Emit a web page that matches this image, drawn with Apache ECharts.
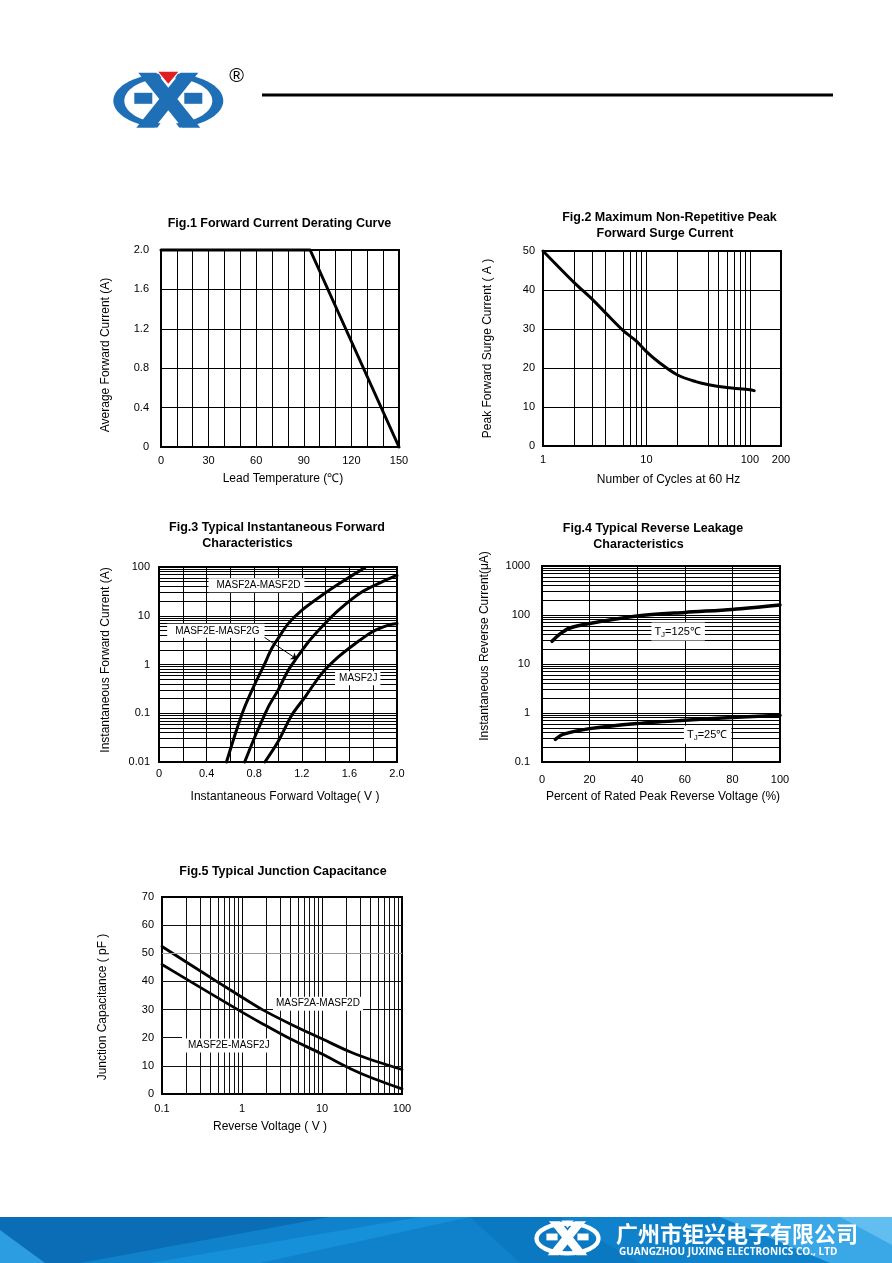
<!DOCTYPE html>
<html><head><meta charset="utf-8">
<script src="https://cdn.jsdelivr.net/npm/echarts@6/dist/echarts.min.js"></script>
<style>html,body{margin:0;padding:0;background:#fff}#c{width:892px;height:1263px}</style>
</head><body><div id="c"></div>
<script>
// ---------- DATA ----------
// Fig.1 Forward Current Derating Curve
const fig1Temp = [0, 94, 150];
const fig1Current = [2.0, 2.0, 0];
// Fig.2 Maximum Non-Repetitive Peak Forward Surge Current
const fig2Cycles = [1, 2, 3, 4, 6, 8, 10, 13, 20, 30, 40, 60, 100, 110];
const fig2Surge = [50, 41.9, 37.6, 34.2, 29.5, 26.9, 24.2, 21.6, 18.2, 16.5, 15.7, 15.0, 14.4, 14.2];
const fig2GridCycles = [2, 3, 4, 6, 7, 8, 9, 20, 40, 50, 60, 70, 80, 90];
// Fig.3 Typical Instantaneous Forward Characteristics
const fig3VoltAD = [0.567, 0.651, 0.72, 0.806, 0.876, 0.946, 1.0, 1.086, 1.199, 1.367, 1.535, 1.73];
const fig3CurAD = [0.01, 0.045, 0.134, 0.40, 0.89, 2.1, 3.4, 6.9, 12.9, 26, 49, 97];
const fig3VoltEG = [0.72, 0.806, 0.918, 1.0, 1.086, 1.157, 1.255, 1.367, 1.507, 1.704, 1.9, 2.0];
const fig3CurEG = [0.01, 0.033, 0.134, 0.295, 0.76, 1.36, 2.9, 5.9, 12.9, 30.7, 53, 67];
const fig3VoltJ = [0.89, 1.0, 1.114, 1.227, 1.367, 1.507, 1.648, 1.788, 1.928, 2.0];
const fig3CurJ = [0.01, 0.026, 0.09, 0.215, 0.65, 1.43, 2.67, 4.6, 6.4, 6.9];
const fig3Labels = ['MASF2A-MASF2D', 'MASF2E-MASF2G', 'MASF2J'];
// Fig.4 Typical Reverse Leakage Characteristics
const fig4Pct125 = [4.2, 7, 11.2, 20, 40, 60, 80, 100];
const fig4Cur125 = [29, 39, 53, 67, 95, 113, 130, 160];
const fig4Pct25 = [5.6, 9.1, 20, 40, 60, 80, 100];
const fig4Cur25 = [0.29, 0.37, 0.48, 0.61, 0.71, 0.81, 0.90];
// Fig.5 Typical Junction Capacitance
const fig5Volt = [0.1, 0.217, 0.47, 1, 1.82, 3.95, 10, 22.7, 44.7, 100];
const fig5CapAD = [52.4, 46.3, 40.2, 34.4, 29.9, 25.0, 19.6, 14.9, 11.8, 8.7];
const fig5CapEJ = [46.0, 40.3, 34.6, 29.1, 24.9, 19.7, 14.2, 9.0, 5.4, 1.8];
const fig5Labels = ['MASF2A-MASF2D', 'MASF2E-MASF2J'];
// log-axis minor gridlines (2..9 of each decade)
const minorSteps = [2, 3, 4, 5, 6, 7, 8, 9];
const decades3 = [0.01, 0.1, 1, 10];
const decades4 = [0.1, 1, 10, 100];
const decades5 = [0.1, 1, 10];

// ---------- HELPERS ----------
const FONT = '"Liberation Sans", Arial, Helvetica, sans-serif';
const tickFont = {fontFamily: FONT, fontSize: 11, color: '#000'};
const nameFont = {fontFamily: FONT, fontSize: 12, color: '#000'};
const minors = decs => decs.flatMap(d => minorSteps.map(m => +(d * m).toPrecision(6)));
const logFmt = v => String(+(+v).toPrecision(6));
const pairs = (xs, ys) => xs.map((x, i) => [x, ys[i]]);

function gridBox(left, top, width, height) {
  return {left, top, width, height, show: true, borderColor: '#000', borderWidth: 2, backgroundColor: 'transparent'};
}
function axisBase(gi, extra) {
  return Object.assign({
    gridIndex: gi, axisLine: {show: false}, axisTick: {show: false},
    splitLine: {show: true, lineStyle: {color: '#000', width: 1}},
    nameLocation: 'middle'
  }, extra);
}
function curve(gi, xs, ys, width, smooth) {
  return {type: 'line', xAxisIndex: gi, yAxisIndex: gi, data: pairs(xs, ys), symbol: 'none', showSymbol: false,
    smooth: smooth === undefined ? 0.3 : smooth, clip: false, silent: true, z: 3,
    lineStyle: {color: '#000', width: width || 3, cap: 'round', join: 'round'}};
}
function gridLines(gi, xs, ys, extraItems, color) {
  const items = xs.map(v => ({xAxis: v})).concat(ys.map(v => ({yAxis: v}))).concat(extraItems || []);
  return {type: 'line', xAxisIndex: gi, yAxisIndex: gi, data: [], z: 1, silent: true,
    markLine: {silent: true, symbol: ['none', 'none'], animation: false, label: {show: false},
      emphasis: {disabled: true}, lineStyle: {color: color || '#000', width: 1, type: 'solid'}, data: items}};
}
function annotations(gi, items, fontSize) {
  return {type: 'line', xAxisIndex: gi, yAxisIndex: gi, data: [], z: 5, silent: true,
    markPoint: {symbol: 'rect', symbolSize: 1, itemStyle: {color: 'rgba(0,0,0,0)'}, animation: false,
      label: {show: true, position: 'inside', color: '#000', fontFamily: FONT, fontSize: fontSize || 10,
        backgroundColor: '#fff', rich: {sub: {fontFamily: FONT, fontSize: 8, color: '#000', padding: [6, 0, 0, 0]}}},
      data: items.map(it => ({coord: it.coord, label: {formatter: it.text, padding: it.padding}}))}};
}

// ---------- LOGO ----------
function logo(cx, cy, s, blue, red, bg, ringMode) {
  const P = pts => pts.map(p => [cx + p[0] * s, cy + p[1] * s]);
  const els = [];
  if (ringMode === 'fill') {
    els.push({type: 'ellipse', shape: {cx, cy, rx: 55 * s, ry: 27.5 * s}, style: {fill: blue}});
    els.push({type: 'ellipse', shape: {cx, cy, rx: 44 * s, ry: 23 * s}, style: {fill: bg}});
    els.push({type: 'polygon', shape: {points: P([[-12, -31], [12, -31], [0, -12]])}, style: {fill: bg}});
    els.push({type: 'polygon', shape: {points: P([[-14, 31], [14, 31], [0, 12]])}, style: {fill: bg}});
  } else {
    els.push({type: 'ellipse', shape: {cx, cy, rx: 50 * s, ry: 24 * s}, style: {fill: 'none', stroke: blue, lineWidth: 7 * s}});
  }
  els.push({type: 'polygon', shape: {points: P([[-30, -28], [-12, -28], [32, 27], [14, 27]])}, style: {fill: blue}});
  els.push({type: 'polygon', shape: {points: P([[12, -28], [30, -28], [-14, 27], [-32, 27]])}, style: {fill: blue}});
  els.push({type: 'rect', shape: {x: cx - 34 * s, y: cy - 8 * s, width: 18 * s, height: 11 * s}, style: {fill: blue}});
  els.push({type: 'rect', shape: {x: cx + 16 * s, y: cy - 8 * s, width: 18 * s, height: 11 * s}, style: {fill: blue}});
  els.push({type: 'polygon', shape: {points: P([[-10, -29], [10, -29], [0, -17]])}, style: {fill: red}});
  return els;
}
function txt(text, x, y, font, align, fill) {
  return {type: 'text', style: {text, x, y, font, align: align || 'center', textAlign: align || 'center',
    verticalAlign: 'middle', textVerticalAlign: 'middle', fill: fill || '#000'}};
}
const TITLE = 'bold 12.5px ' + FONT;

const graphics = [].concat(
  logo(168.3, 100.8, 1, '#1f6fb6', '#e02020', '#fff', 'fill'),
  [txt('®', 236.5, 76, '20px ' + FONT),
   {type: 'rect', shape: {x: 262, y: 93.5, width: 571, height: 3}, style: {fill: '#000'}},
   txt('Fig.1 Forward Current Derating Curve', 279.5, 224, TITLE),
   txt('Fig.2 Maximum Non-Repetitive Peak', 669.5, 218, TITLE),
   txt('Forward Surge Current', 665, 234, TITLE),
   txt('Fig.3 Typical Instantaneous Forward', 277, 528, TITLE),
   txt('Characteristics', 247.5, 544, TITLE),
   txt('Fig.4 Typical Reverse Leakage', 653, 529, TITLE),
   txt('Characteristics', 638.5, 545, TITLE),
   txt('Fig.5 Typical Junction Capacitance', 283, 872, TITLE),
   // footer banner
   {type: 'rect', shape: {x: 0, y: 1217, width: 892, height: 46}, style: {fill: '#0f82cb'}},
   {type: 'polygon', shape: {points: [[0, 1217], [330, 1217], [80, 1263], [0, 1263]]}, style: {fill: '#0a6db6'}},
   {type: 'polygon', shape: {points: [[0, 1230], [45, 1263], [0, 1263]]}, style: {fill: '#2c9de0'}},
   {type: 'polygon', shape: {points: [[150, 1263], [420, 1217], [470, 1217], [260, 1263]]}, style: {fill: '#1690d9'}},
   {type: 'polygon', shape: {points: [[470, 1217], [560, 1217], [640, 1263], [520, 1263]]}, style: {fill: '#0b78c2'}},
   {type: 'polygon', shape: {points: [[720, 1217], [892, 1217], [892, 1263], [830, 1263]]}, style: {fill: '#3aa7e6'}},
   {type: 'polygon', shape: {points: [[840, 1217], [892, 1217], [892, 1245]]}, style: {fill: '#62bdf0'}}
  ],
  logo(567.5, 1238.5, 0.62, '#fff', '#fff', '#0f82cb', 'stroke'),
  [txt('广州市钜兴电子有限公司', 616, 1233.5, 'bold 22px "Noto Sans CJK SC"', 'left', '#fff'),
   txt('GUANGZHOU JUXING ELECTRONICS CO., LTD', 619, 1252.5, 'bold 10px "Open Sans"', 'left', '#fff')]
);

// ---------- CHART ----------
const chart = echarts.init(document.getElementById('c'), null, {renderer: 'canvas'});
chart.setOption({
  animation: false,
  backgroundColor: '#fff',
  textStyle: {fontFamily: FONT},
  grid: [
    gridBox(161, 250, 238, 197),
    gridBox(543, 251, 238, 195),
    gridBox(159, 567, 238, 195),
    gridBox(542, 566, 238, 196),
    gridBox(162, 897, 240, 197)
  ],
  xAxis: [
    axisBase(0, {type: 'value', min: 0, max: 150, interval: 10,
      axisLabel: Object.assign({}, tickFont, {margin: 8, formatter: v => (v % 30 === 0 ? String(v) : '')}),
      name: 'Lead Temperature (℃)', nameGap: 26, nameTextStyle: Object.assign({}, nameFont, {padding: [0, 0, 0, 6]})}),
    axisBase(1, {type: 'log', logBase: 10, min: 1, max: 200,
      axisLabel: Object.assign({}, tickFont, {margin: 8, formatter: logFmt}),
      name: 'Number of Cycles at 60 Hz', nameGap: 28, nameTextStyle: Object.assign({}, nameFont, {padding: [0, 0, 0, 13]})}),
    axisBase(2, {type: 'value', min: 0, max: 2, interval: 0.2,
      axisLabel: Object.assign({}, tickFont, {margin: 6, formatter: v => {
        const k = Math.round(v * 10); if (k % 4) return ''; return k === 0 ? '0' : (k / 10).toFixed(1);
      }}),
      name: 'Instantaneous Forward Voltage( V )', nameGap: 29, nameTextStyle: Object.assign({}, nameFont, {padding: [0, 0, 0, 14]})}),
    axisBase(3, {type: 'value', min: 0, max: 100, interval: 20,
      axisLabel: Object.assign({}, tickFont, {margin: 12}),
      name: 'Percent of Rated Peak Reverse Voltage (%)', nameGap: 29, nameTextStyle: Object.assign({}, nameFont, {padding: [0, 0, 0, 4]})}),
    axisBase(4, {type: 'log', logBase: 10, min: 0.1, max: 100,
      axisLabel: Object.assign({}, tickFont, {margin: 9, formatter: logFmt}),
      name: 'Reverse Voltage ( V )', nameGap: 27, nameTextStyle: Object.assign({}, nameFont, {padding: [0, 24, 0, 0]})})
  ],
  yAxis: [
    axisBase(0, {type: 'value', min: 0, max: 2, interval: 0.4,
      axisLabel: Object.assign({}, tickFont, {margin: 12, formatter: v => (v === 0 ? '0' : v.toFixed(1))}),
      name: 'Average Forward Current (A)', nameGap: 49, nameTextStyle: Object.assign({}, nameFont, {padding: [0, 13, 0, 0]})}),
    axisBase(1, {type: 'value', min: 0, max: 50, interval: 10,
      axisLabel: Object.assign({}, tickFont, {margin: 8}),
      name: 'Peak Forward Surge Current ( A )', nameGap: 49, nameTextStyle: nameFont}),
    axisBase(2, {type: 'log', logBase: 10, min: 0.01, max: 100,
      axisLabel: Object.assign({}, tickFont, {margin: 9, formatter: logFmt}),
      name: 'Instantaneous Forward Current (A)', nameGap: 47, nameTextStyle: Object.assign({}, nameFont, {padding: [0, 0, 0, 9]})}),
    axisBase(3, {type: 'log', logBase: 10, min: 0.1, max: 1000,
      axisLabel: Object.assign({}, tickFont, {margin: 12, formatter: logFmt}),
      name: 'Instantaneous Reverse Current(μA)', nameGap: 51, nameTextStyle: Object.assign({}, nameFont, {padding: [0, 0, 0, 36]})}),
    axisBase(4, {type: 'value', min: 0, max: 70, interval: 10, splitLine: {show: false},
      axisLabel: Object.assign({}, tickFont, {margin: 8}),
      name: 'Junction Capacitance ( pF )', nameGap: 53, nameTextStyle: Object.assign({}, nameFont, {padding: [0, 23, 0, 0]})})
  ],
  series: [
    // Fig.1
    curve(0, fig1Temp, fig1Current, 3, false),
    // Fig.2
    gridLines(1, fig2GridCycles, []),
    curve(1, fig2Cycles, fig2Surge, 3),
    // Fig.3
    gridLines(2, [], minors(decades3)),
    curve(2, fig3VoltAD, fig3CurAD, 3),
    curve(2, fig3VoltEG, fig3CurEG, 3),
    curve(2, fig3VoltJ, fig3CurJ, 3),
    annotations(2, [
      {coord: [0.819, 42], text: fig3Labels[0], padding: [2, 4, 2, 8]},
      {coord: [0.478, 4.9], text: fig3Labels[1], padding: [2, 5, 2, 8]},
      {coord: [1.67, 0.52], text: fig3Labels[2], padding: [2, 3, 2, 4]}
    ], 10),
    {type: 'line', xAxisIndex: 2, yAxisIndex: 2, data: [], z: 6, silent: true,
      markLine: {silent: true, animation: false, symbol: ['none', 'arrow'], symbolSize: 6, label: {show: false},
        lineStyle: {color: '#000', width: 1, type: 'solid'},
        data: [[{coord: [0.873, 3.79]}, {coord: [1.16, 1.28]}]]}},
    // Fig.4
    gridLines(3, [], minors(decades4)),
    curve(3, fig4Pct125, fig4Cur125, 3.5),
    curve(3, fig4Pct25, fig4Cur25, 3.5),
    annotations(3, [
      {coord: [57.2, 46], text: 'T{sub|J}=125℃', padding: [2, 4, 2, 3]},
      {coord: [69.6, 0.36], text: 'T{sub|J}=25℃', padding: [2, 4, 2, 3]}
    ], 11),
    // Fig.5
    gridLines(4, minors(decades5), [10, 30, 40, 60],
      [[{coord: [0.1, 20]}, {coord: [0.178, 20]}]], '#111'),
    gridLines(4, [], [50], [], '#999'),
    curve(4, fig5Volt, fig5CapAD, 2.8, 0.3),
    curve(4, fig5Volt, fig5CapEJ, 2.8, 0.3),
    annotations(4, [
      {coord: [8.9, 32.1], text: fig5Labels[0], padding: [2, 3, 2, 3]},
      {coord: [0.684, 17.2], text: fig5Labels[1], padding: [2, 3, 2, 3]}
    ], 10)
  ],
  graphic: {elements: graphics}
});
</script>
</body></html>
